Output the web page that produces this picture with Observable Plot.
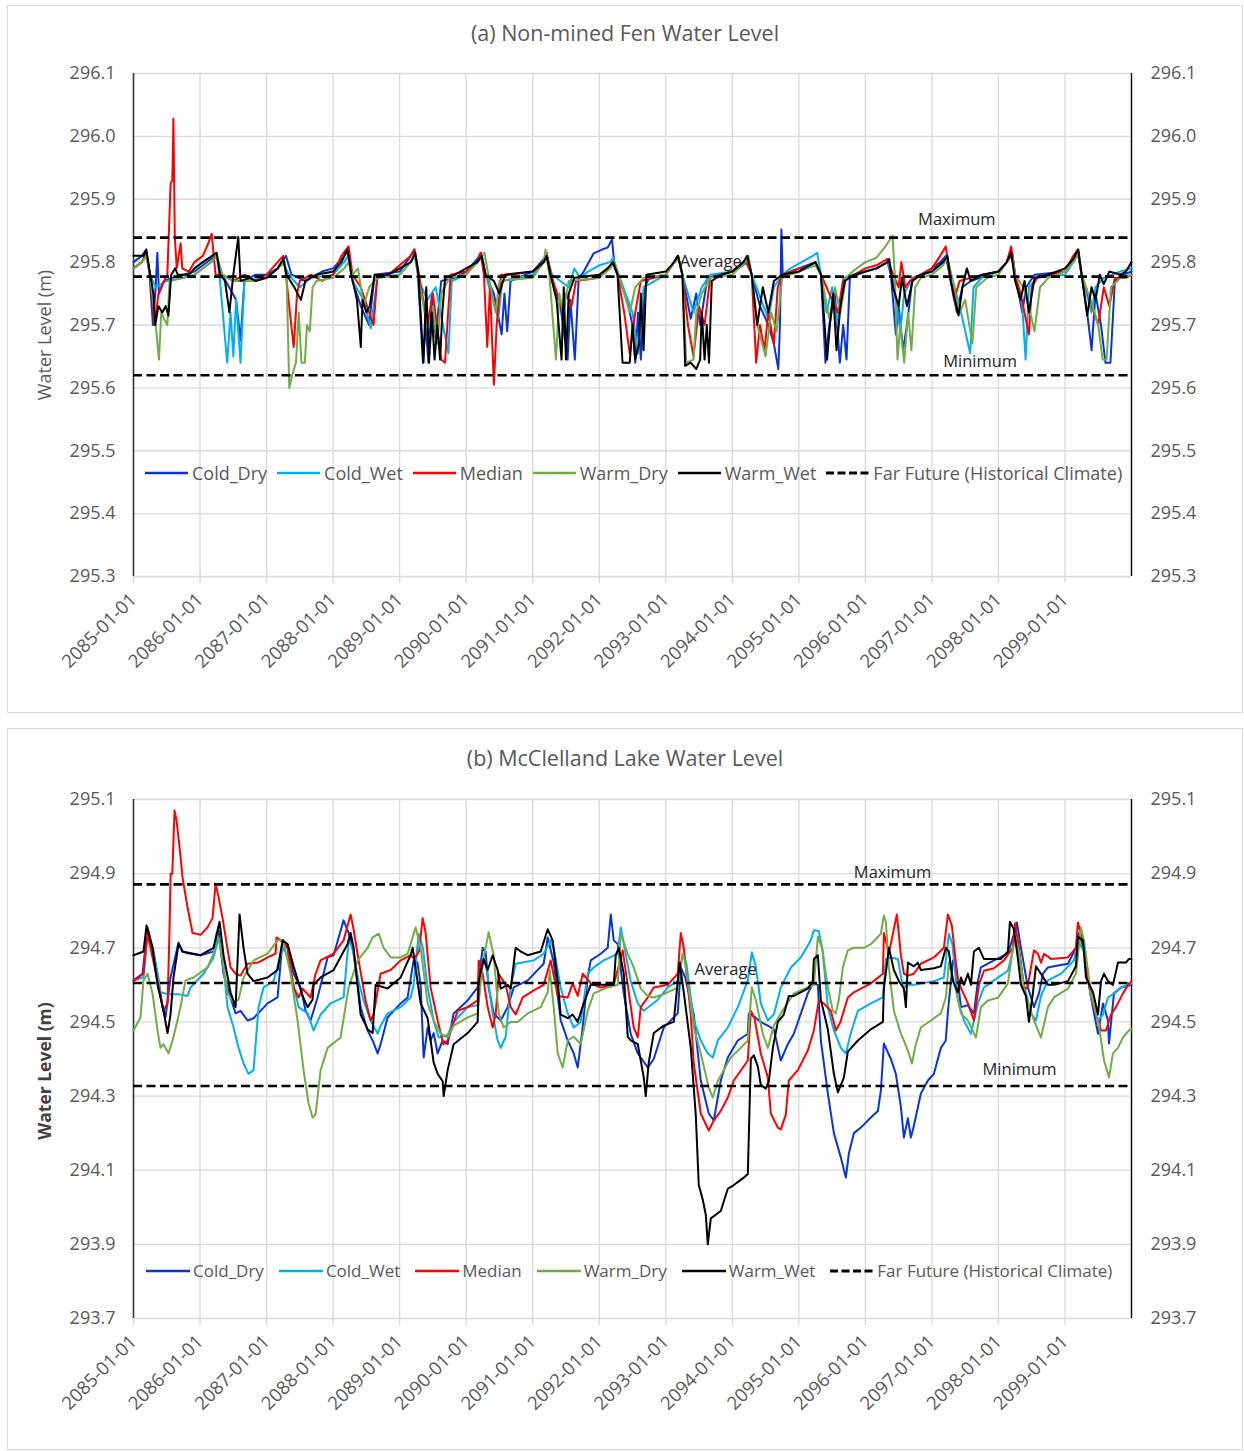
<!DOCTYPE html>
<html><head><meta charset="utf-8">
<script src="https://cdn.jsdelivr.net/npm/d3@7"></script>
<script src="https://cdn.jsdelivr.net/npm/@observablehq/plot@0.6"></script>
<style>
body{margin:0;background:#fff;font-family:"Open Sans",sans-serif;}
.panel{position:absolute;left:7px;width:1236px;border:1px solid #d9d9d9;box-sizing:border-box;background:#fff;}
.title{height:54px;line-height:54px;text-align:center;font-size:21.5px;color:#595959;}
.panel svg{display:block}
.legend{position:absolute;display:flex;align-items:center;color:#595959;white-space:nowrap;line-height:24px;height:24px}
.item{display:flex;align-items:center}
.item svg{display:block}
</style></head><body>
<div id="pa" class="panel" style="top:5px;height:708px"><div class="title">(a) Non-mined Fen Water Level</div></div>
<div id="pb" class="panel" style="top:728px;height:722px"><div class="title" style="height:58px;line-height:58px">(b) McClelland Lake Water Level</div></div>
<script>
// ---------- categories ----------
const seriesNames = ["Cold_Dry","Cold_Wet","Median","Warm_Dry","Warm_Wet"];
const seriesColors = ["#0a35d6","#00b0f0","#ff0000","#70ad47","#000000"];
const refName = "Far Future (Historical Climate)";
const refLabels = ["Maximum","Average","Minimum"];
const yearTickMonths = [0,12,24,36,48,60,72,84,96,108,120,132,144,156,168];
const yearTickLabels = ["2085-01-01","2086-01-01","2087-01-01","2088-01-01","2089-01-01","2090-01-01","2091-01-01","2092-01-01","2093-01-01","2094-01-01","2095-01-01","2096-01-01","2097-01-01","2098-01-01","2099-01-01"];
const fenTicks = [295.3,295.4,295.5,295.6,295.7,295.8,295.9,296.0,296.1];
const lakeTicks = [293.7,293.9,294.1,294.3,294.5,294.7,294.9,295.1];
const fenRefValues = [295.839,295.777,295.620];
const fenRefLabelMonths = [148.5,104.1,152.7];
const lakeRefValues = [294.871,294.605,294.327];
const lakeRefLabelMonths = [136.9,106.8,159.8];

// ---------- series: [months since 2085-01-01, water level m] ----------
// (a) Non-mined fen
const fenColdDry = [[0,295.80],[1.5,295.81],[2.3,295.82],[2.9,295.78],[3.5,295.70],[4.0,295.76],[4.3,295.815],[4.6,295.75],[5.5,295.77],[7,295.775],[9,295.78],[11,295.785],[14,295.805],[15,295.81],[16,295.78],[18.5,295.74],[19.3,295.675],[20,295.77],[22,295.78],[24,295.78],[26,295.79],[27.5,295.81],[28.5,295.78],[31,295.77],[34,295.785],[36,295.79],[38,295.81],[38.5,295.82],[39.5,295.77],[41,295.73],[42.5,295.70],[43.5,295.78],[48,295.785],[50,295.81],[50.6,295.82],[51.3,295.78],[52.2,295.64],[52.7,295.70],[53.2,295.64],[53.8,295.75],[54.5,295.68],[55.5,295.77],[58,295.775],[60,295.785],[62,295.805],[62.7,295.815],[63.5,295.78],[65,295.75],[66.4,295.685],[66.9,295.75],[67.4,295.69],[68,295.77],[72,295.785],[74,295.805],[74.5,295.815],[75.3,295.78],[77,295.73],[78.3,295.645],[78.8,295.74],[79.6,295.645],[80.3,295.775],[81,295.782],[83,295.814],[84.5,295.82],[85.5,295.823],[86.3,295.836],[86.8,295.79],[87.5,295.775],[89,295.74],[90,295.70],[90.5,295.64],[91,295.72],[91.5,295.645],[92.2,295.76],[93,295.775],[96,295.78],[97.5,295.80],[98.2,295.81],[99,295.78],[100.5,295.71],[101.5,295.75],[102.2,295.70],[103.5,295.775],[108,295.785],[110,295.80],[110.7,295.805],[111.5,295.78],[113,295.73],[114.5,295.70],[115.5,295.67],[116.3,295.63],[116.6,295.70],[116.85,295.852],[117.1,295.78],[120,295.79],[123,295.80],[124,295.78],[124.8,295.64],[125.5,295.70],[126.5,295.75],[127.4,295.64],[128,295.70],[128.6,295.645],[129.2,295.775],[132,295.785],[134,295.79],[136,295.80],[136.6,295.78],[137.5,295.685],[138,295.73],[138.8,295.66],[139.5,295.70],[140.5,295.775],[142,295.78],[144,295.79],[145.5,295.80],[146.5,295.81],[147.2,295.78],[148.5,295.72],[149.5,295.76],[151,295.77],[156,295.785],[157.5,295.80],[158.5,295.815],[159,295.78],[160.3,295.72],[161,295.76],[162.5,295.78],[168,295.785],[169.5,295.805],[170.3,295.815],[171,295.78],[172,295.72],[172.8,295.66],[173.5,295.75],[174.5,295.70],[175.3,295.64],[176.2,295.64],[177,295.77],[178.5,295.78],[180,295.785]];
const fenColdWet = [[0,295.79],[1.5,295.80],[2.3,295.81],[3,295.78],[4,295.76],[6,295.77],[9,295.775],[11,295.78],[14,295.80],[15,295.81],[15.5,295.78],[16.9,295.64],[17.5,295.72],[18,295.65],[18.5,295.74],[19.3,295.64],[20,295.77],[24,295.775],[26,295.79],[27,295.80],[28,295.78],[30,295.76],[32,295.775],[36,295.78],[38,295.80],[38.7,295.81],[39.5,295.77],[41.5,295.74],[42.8,295.695],[44,295.775],[48,295.78],[50,295.80],[50.8,295.81],[51.5,295.77],[53,295.74],[54.5,295.76],[56.8,295.655],[57.4,295.77],[60,295.78],[62,295.80],[62.8,295.81],[63.5,295.78],[65.8,295.71],[66.5,295.77],[72,295.78],[74,295.80],[74.5,295.81],[75.5,295.78],[78.5,295.76],[79.5,295.79],[80.5,295.775],[82,295.785],[84,295.795],[86,295.80],[86.5,295.807],[87.5,295.78],[90,295.72],[91,295.655],[92,295.76],[96,295.78],[97.5,295.80],[98.3,295.805],[99,295.78],[101,295.72],[102.5,295.76],[104,295.78],[108,295.785],[110,295.795],[110.8,295.80],[111.5,295.78],[114.5,295.71],[115.5,295.76],[117,295.78],[118.5,295.79],[120.5,295.80],[122.5,295.81],[123.3,295.815],[124,295.78],[125,295.72],[126,295.76],[127,295.70],[128,295.775],[130,295.78],[132,295.785],[134,295.79],[136,295.80],[136.8,295.78],[138.3,295.69],[139,295.75],[140.5,295.775],[144,295.785],[146,295.80],[146.7,295.81],[147.5,295.78],[149,295.73],[150.9,295.655],[151.5,295.76],[153,295.775],[156,295.785],[157.5,295.80],[158.3,295.815],[159,295.78],[160.3,295.73],[160.9,295.645],[161.5,295.76],[163,295.775],[168,295.78],[169.5,295.80],[170.4,295.815],[171,295.78],[172.8,295.72],[173.5,295.76],[175,295.775],[178,295.785],[180,295.79]];
const fenMedian = [[0,295.79],[1.5,295.80],[2.3,295.815],[3,295.78],[3.8,295.70],[4.5,295.75],[5.5,295.77],[6.1,295.78],[6.7,295.925],[7.0,295.93],[7.2,296.028],[7.45,295.84],[7.8,295.79],[8.5,295.83],[8.8,295.79],[10,295.785],[11,295.80],[12.5,295.81],[13.5,295.83],[14.1,295.845],[14.8,295.78],[16,295.78],[18,295.77],[20,295.78],[22,295.77],[24,295.78],[26,295.80],[27,295.81],[27.5,295.78],[28.2,295.72],[28.9,295.665],[29.5,295.75],[30,295.77],[32,295.78],[34,295.77],[36,295.78],[37.5,295.81],[38.8,295.825],[39.5,295.78],[41,295.76],[42.5,295.72],[43.3,295.70],[44,295.78],[46,295.78],[48,295.795],[50,295.81],[50.7,295.82],[51.5,295.78],[53,295.70],[54,295.75],[55.5,295.645],[56.2,295.64],[56.6,295.70],[57.2,295.78],[60,295.785],[62,295.80],[62.6,295.815],[63.2,295.78],[63.8,295.665],[64.3,295.76],[65.0,295.605],[65.5,295.70],[66.3,295.78],[68,295.78],[72,295.785],[74,295.80],[74.5,295.815],[75.3,295.78],[77.5,295.72],[78,295.75],[79,295.73],[79.8,295.77],[84,295.775],[85.5,295.79],[86.5,295.80],[87.3,295.78],[88.5,295.72],[89.5,295.655],[90.5,295.72],[91.5,295.77],[96,295.78],[97.5,295.80],[98.2,295.81],[99,295.78],[100,295.70],[101,295.65],[102,295.73],[103,295.70],[104,295.775],[108,295.785],[109.5,295.795],[110.5,295.80],[111.5,295.78],[112.3,295.64],[113,295.70],[113.8,295.66],[114.5,295.72],[115.5,295.67],[116.2,295.76],[117,295.78],[120,295.79],[121,295.79],[123,295.80],[124,295.78],[125.5,295.75],[127,295.72],[128,295.77],[130,295.78],[132,295.79],[134,295.795],[136,295.805],[137,295.78],[138,295.76],[138.5,295.80],[139.2,295.76],[140,295.77],[142,295.78],[144,295.79],[145.5,295.81],[146.5,295.825],[147.2,295.78],[148,295.74],[149,295.77],[151,295.775],[156,295.785],[157.5,295.80],[158.3,295.825],[159,295.78],[160,295.75],[161.5,295.685],[162,295.76],[163,295.775],[168,295.785],[169.5,295.81],[170.3,295.82],[171,295.78],[172.5,295.74],[174,295.70],[175,295.76],[176,295.73],[177,295.775],[179,295.775],[180,295.78]];
const fenWarmDry = [[0,295.79],[1.5,295.80],[2.3,295.81],[3,295.78],[4.0,295.70],[4.6,295.645],[5.0,295.72],[5.5,295.71],[6.1,295.70],[6.5,295.77],[9,295.775],[11,295.78],[14,295.80],[15,295.81],[16,295.78],[18,295.77],[22,295.77],[24,295.775],[26,295.79],[27.3,295.80],[27.6,295.78],[28.1,295.60],[28.6,295.62],[29.3,295.64],[29.8,295.72],[30.3,295.64],[30.9,295.64],[31.3,295.70],[31.8,295.69],[32.3,295.76],[33,295.77],[36,295.775],[38,295.79],[38.8,295.80],[39.5,295.78],[40.5,295.79],[41.5,295.73],[42.5,295.76],[44,295.775],[48,295.78],[50,295.80],[50.8,295.81],[51.5,295.77],[53.5,295.67],[54,295.73],[54.8,295.67],[55.5,295.75],[57,295.775],[60,295.78],[62,295.80],[63.3,295.815],[64,295.78],[65.3,295.72],[66,295.77],[72,295.775],[74,295.80],[74.3,295.82],[75,295.78],[76.2,295.645],[76.8,295.75],[77.5,295.72],[78.5,295.77],[84,295.775],[86,295.79],[86.7,295.80],[87.5,295.78],[89.5,295.72],[90.5,295.76],[92,295.775],[96,295.78],[97.5,295.80],[98.3,295.805],[99,295.78],[99.7,295.64],[101,295.645],[101.5,295.72],[102.5,295.75],[104,295.775],[108,295.78],[110.3,295.80],[110.9,295.81],[111.5,295.78],[112.5,295.70],[114,295.65],[115,295.72],[116,295.69],[117,295.775],[120,295.785],[123,295.795],[124,295.78],[125.5,295.71],[126.5,295.76],[127.5,295.72],[128.5,295.775],[130,295.787],[132,295.80],[134,295.807],[135.7,295.826],[136.9,295.842],[137.3,295.78],[137.8,295.645],[138.3,295.70],[139,295.64],[139.7,295.72],[140.3,295.66],[141,295.76],[142,295.775],[144,295.78],[146,295.795],[146.8,295.805],[147.5,295.78],[149,295.72],[150,295.74],[151.3,295.67],[152,295.76],[154,295.775],[156,295.78],[157.5,295.80],[158.5,295.81],[159,295.78],[160.5,295.76],[161.5,295.73],[162.5,295.69],[163.5,295.76],[165,295.775],[168,295.785],[169.5,295.80],[170.5,295.815],[171,295.78],[173,295.73],[174,295.70],[174.8,295.645],[175.5,295.645],[176.3,295.76],[178,295.775],[180,295.78]];
const fenWarmWet = [[0,295.81],[1.8,295.81],[2.3,295.82],[3,295.78],[3.6,295.75],[3.9,295.70],[4.5,295.73],[5.2,295.72],[5.8,295.73],[6.3,295.715],[6.8,295.78],[7.5,295.79],[8,295.78],[10,295.78],[11,295.79],[12.5,295.80],[15,295.815],[15.6,295.78],[16.5,295.77],[17.3,295.72],[18,295.78],[18.9,295.84],[19.3,295.77],[21,295.775],[22,295.77],[24,295.775],[26,295.79],[27,295.805],[27.6,295.78],[29,295.76],[30.2,295.74],[31,295.77],[33,295.78],[36,295.785],[37.5,295.80],[38.6,295.82],[39.3,295.78],[40.3,295.74],[41,295.665],[41.3,295.74],[42,295.72],[42.6,295.73],[43.5,295.78],[46,295.78],[48,295.79],[50,295.80],[50.8,295.815],[51.4,295.78],[52.3,295.64],[52.8,295.76],[53.3,295.64],[53.8,295.72],[54.3,295.645],[54.8,295.70],[55.3,295.645],[55.7,295.72],[56.2,295.775],[58,295.78],[60,295.79],[62,295.80],[62.8,295.81],[63.5,295.78],[65,295.77],[66,295.75],[67,295.78],[72,295.785],[74,295.80],[74.5,295.81],[75.2,295.78],[76.3,295.74],[77.2,295.645],[77.6,295.76],[78,295.645],[78.5,295.75],[79.5,295.775],[84,295.78],[85.5,295.79],[86.5,295.80],[87.3,295.78],[88.2,295.64],[89.5,295.64],[90,295.70],[90.5,295.645],[91.2,295.67],[91.5,295.75],[92,295.66],[92.5,295.78],[96,295.785],[97.5,295.80],[98.2,295.81],[99,295.78],[99.5,295.635],[100.5,295.64],[101.5,295.63],[102.2,295.645],[102.5,295.72],[103,295.645],[103.4,295.70],[103.8,295.64],[104.3,295.77],[106,295.78],[108,295.785],[110,295.80],[110.7,295.81],[111.5,295.78],[112.5,295.70],[113.5,295.76],[114.5,295.72],[115.5,295.77],[117,295.78],[120,295.785],[121,295.79],[123,295.80],[124,295.78],[125.1,295.645],[125.6,295.70],[126.2,295.75],[126.8,295.66],[127.5,295.73],[128.3,295.77],[130,295.78],[132,295.785],[134,295.79],[136,295.80],[136.3,295.805],[137,295.76],[138,295.73],[138.6,295.775],[139.5,295.73],[140.5,295.77],[142,295.78],[144,295.785],[146,295.80],[146.8,295.81],[147.4,295.77],[148.8,295.715],[149.5,295.76],[150.3,295.79],[151,295.77],[153,295.78],[156,295.785],[157.5,295.80],[158.3,295.815],[159,295.77],[160,295.74],[160.7,295.77],[161.5,295.72],[162.5,295.775],[165,295.78],[168,295.79],[169.5,295.805],[170.4,295.82],[171,295.78],[172,295.715],[172.8,295.76],[173.5,295.74],[174.3,295.78],[175,295.765],[176,295.785],[178,295.78],[179,295.785],[180,295.80]];

// (b) McClelland Lake
const lakeColdDry = [[0,294.612],[1.62,294.63],[2.53,294.755],[3.43,294.70],[4.33,294.63],[5.23,294.54],[5.77,294.512],[6.68,294.62],[8.12,294.714],[8.84,294.69],[9.74,294.685],[12.09,294.68],[14.44,294.69],[15.34,294.747],[16.24,294.63],[17.5,294.566],[18.41,294.523],[19.31,294.53],[20.57,294.504],[21.65,294.51],[24.18,294.55],[25.98,294.566],[26.89,294.72],[27.79,294.70],[28.87,294.63],[30.13,294.593],[31.04,294.53],[31.94,294.504],[33.2,294.566],[35.01,294.674],[36.09,294.68],[37.89,294.774],[38.8,294.74],[39.7,294.685],[40.96,294.54],[42.23,294.477],[43.13,294.45],[44.03,294.415],[44.57,294.44],[45.83,294.512],[48.18,294.55],[49.44,294.566],[50.53,294.666],[51.2,294.66],[51.79,294.60],[52.33,294.404],[53.05,294.485],[53.59,294.45],[54.14,294.47],[54.86,294.415],[55.76,294.45],[56.66,294.44],[57.74,294.523],[60.27,294.558],[62.07,294.593],[62.98,294.70],[63.5,294.69],[64.06,294.593],[64.96,294.523],[66.23,294.504],[67.49,294.54],[68.57,294.593],[71.1,294.612],[73.98,294.657],[74.71,294.728],[75.8,294.66],[77.05,294.504],[78.32,294.45],[79.4,294.415],[80.12,294.377],[81.02,294.485],[81.92,294.62],[82.47,294.666],[84.27,294.684],[85.53,294.70],[86.08,294.79],[86.62,294.72],[87.34,294.71],[88.42,294.577],[89.68,294.468],[90.95,294.415],[92.75,294.377],[93.83,294.40],[95.64,294.485],[98.16,294.523],[98.71,294.647],[99.5,294.62],[101.05,294.52],[102.31,294.342],[103.76,294.253],[104.66,294.234],[105.92,294.342],[107.19,294.404],[108.99,294.45],[110.8,294.468],[110.98,294.523],[111.88,294.515],[113.14,294.50],[114.41,294.49],[115.5,294.48],[116.75,294.396],[118.01,294.44],[119.1,294.468],[121.62,294.577],[122.53,294.604],[123.43,294.60],[123.97,294.45],[125.23,294.307],[126.32,294.20],[127.58,294.134],[128.48,294.08],[129.02,294.145],[129.93,294.20],[131.19,294.215],[132.99,294.242],[134.26,294.26],[134.8,294.315],[135.34,294.442],[136.6,294.40],[137.5,294.36],[138.41,294.27],[138.95,294.188],[139.67,294.24],[140.21,294.188],[140.75,294.22],[142.01,294.307],[143.28,294.342],[144.36,294.36],[145.62,294.43],[146.5,294.45],[146.9,294.53],[147.8,294.666],[148.5,294.64],[149.23,294.54],[150.49,294.545],[151.58,294.523],[152.3,294.61],[152.84,294.647],[155.19,294.666],[157.71,294.684],[158.61,294.728],[159.34,294.768],[160.06,294.70],[161.32,294.593],[162.41,294.54],[163.31,294.577],[164.03,294.63],[164.93,294.647],[166.01,294.65],[168.54,294.657],[169.98,294.70],[170.34,294.74],[171.43,294.70],[172.69,294.566],[173.96,294.468],[174.86,294.55],[175.76,294.504],[175.94,294.442],[176.84,294.577],[178.1,294.593],[180,294.60]];
const lakeColdWet = [[0,294.612],[1.8,294.62],[2.53,294.74],[3.5,294.70],[4.87,294.58],[6.14,294.575],[8.12,294.575],[9.74,294.57],[10.29,294.593],[12.63,294.63],[14.44,294.674],[15.34,294.728],[16.1,294.67],[16.96,294.54],[18.05,294.485],[18.95,294.43],[19.85,294.388],[20.75,294.36],[21.65,294.37],[22.56,294.54],[23.46,294.593],[24.18,294.60],[25.26,294.61],[26.89,294.70],[27.79,294.68],[28.87,294.60],[29.77,294.54],[31.4,294.523],[32.48,294.477],[33.74,294.52],[35.55,294.55],[37.89,294.566],[38.8,294.72],[39.5,294.70],[40.6,294.61],[41.5,294.558],[42.77,294.504],[44.03,294.468],[44.57,294.49],[45.83,294.523],[48.18,294.54],[49.98,294.566],[50.53,294.60],[51.43,294.738],[52.2,294.70],[53.05,294.593],[54.14,294.504],[55.04,294.458],[56.66,294.465],[57.74,294.50],[60.27,294.54],[62.07,294.545],[62.98,294.666],[63.6,294.65],[64.78,294.523],[65.68,294.45],[66.23,294.43],[67.13,294.46],[68.03,294.593],[68.93,294.657],[72.18,294.666],[73.98,294.684],[75.25,294.72],[75.9,294.69],[77.05,294.593],[78.32,294.523],[79.4,294.485],[80.66,294.50],[81.92,294.63],[83.01,294.647],[84.81,294.666],[87.34,294.684],[87.88,294.755],[88.78,294.684],[89.68,294.61],[90.95,294.55],[92.03,294.53],[93.29,294.545],[94.56,294.56],[96.36,294.593],[98.16,294.61],[99.07,294.684],[99.7,294.66],[101.05,294.504],[102.31,294.45],[103.58,294.415],[104.48,294.404],[105.38,294.45],[107.19,294.485],[108.99,294.54],[110.8,294.612],[111.52,294.688],[112.24,294.65],[113.14,294.55],[114.41,294.504],[115.49,294.52],[116.75,294.593],[118.56,294.647],[120.36,294.674],[122.16,294.72],[122.71,294.747],[123.61,294.745],[124.3,294.69],[125.23,294.54],[126.32,294.477],[127.58,294.43],[128.48,294.415],[129.38,294.47],[130.65,294.53],[132.99,294.55],[135.16,294.566],[135.7,294.67],[136.6,294.674],[137.87,294.67],[138.77,294.593],[139.67,294.60],[140.75,294.60],[142.01,294.604],[144.36,294.61],[146.16,294.62],[147.06,294.738],[147.7,294.71],[148.69,294.56],[149.77,294.504],[151.04,294.468],[152.3,294.55],[153.38,294.593],[155.19,294.612],[157.71,294.638],[158.61,294.693],[158.8,294.72],[159.6,294.70],[160.6,294.60],[161.86,294.523],[162.77,294.504],[163.67,294.57],[164.93,294.612],[167.28,294.63],[169.62,294.666],[170.34,294.72],[171.43,294.69],[172.69,294.566],[173.96,294.504],[174.86,294.52],[175.76,294.566],[176.84,294.577],[178.1,294.593],[180,294.604]];
const lakeMedian = [[0,294.61],[1.8,294.63],[2.53,294.74],[3.07,294.70],[4.33,294.61],[5.41,294.53],[6.14,294.55],[6.5,294.75],[6.7,294.90],[7.0,294.90],[7.4,295.07],[7.8,295.04],[8.5,294.944],[8.84,294.89],[9.74,294.81],[10.65,294.74],[12.09,294.735],[13.35,294.755],[14.26,294.78],[14.8,294.873],[15.3,294.84],[16.06,294.78],[17.5,294.647],[18.41,294.63],[19.31,294.625],[20.57,294.657],[22.5,294.66],[24.18,294.674],[25.62,294.684],[25.8,294.728],[26.53,294.72],[27.79,294.70],[28.87,294.593],[29.77,294.566],[30.5,294.59],[31.94,294.566],[32.84,294.63],[33.74,294.666],[36.09,294.684],[37.89,294.72],[39.16,294.79],[39.7,294.75],[40.6,294.666],[41.86,294.558],[42.77,294.504],[43.3,294.52],[44.57,294.63],[46.38,294.64],[48.18,294.666],[49.98,294.68],[50.6,294.67],[51.5,294.69],[52.15,294.78],[52.69,294.74],[53.59,294.593],[54.86,294.504],[55.9,294.44],[56.66,294.45],[58.47,294.53],[60.27,294.54],[62.07,294.558],[62.26,294.666],[62.98,294.63],[63.88,294.54],[64.78,294.485],[65.32,294.52],[65.86,294.63],[67.13,294.60],[68.03,294.54],[68.93,294.52],[70.2,294.566],[72.18,294.585],[73.98,294.60],[75.25,294.666],[76.51,294.57],[78.32,294.566],[79.22,294.604],[80.12,294.57],[81.02,294.63],[82.47,294.604],[84.27,294.593],[86.62,294.60],[88.24,294.693],[89.14,294.60],[90.22,294.485],[90.95,294.458],[91.49,294.54],[92.75,294.566],[93.83,294.593],[96.36,294.60],[98.16,294.63],[98.71,294.74],[99.25,294.70],[100.51,294.52],[101.05,294.388],[102.31,294.253],[103.76,294.207],[104.66,294.234],[105.92,294.26],[107.19,294.296],[108.27,294.342],[110.8,294.396],[111.34,294.53],[112.0,294.51],[113.14,294.415],[114.41,294.35],[114.95,294.253],[116.21,294.215],[116.75,294.21],[117.65,294.25],[118.19,294.342],[119.82,294.37],[121.62,294.423],[122.71,294.477],[123.61,294.558],[124.5,294.55],[125.77,294.53],[126.68,294.477],[127.5,294.50],[128.84,294.566],[129.93,294.58],[132.99,294.604],[135.16,294.63],[135.34,294.74],[136.24,294.685],[137.68,294.79],[138.41,294.68],[138.95,294.63],[139.67,294.625],[140.75,294.63],[142.01,294.657],[144.36,294.674],[146.16,294.70],[146.88,294.79],[147.6,294.76],[148.69,294.61],[150.49,294.55],[151.58,294.504],[152.48,294.60],[153.38,294.638],[155.19,294.645],[156.99,294.666],[158.61,294.70],[158.98,294.766],[159.7,294.70],[160.6,294.593],[161.2,294.59],[162.41,294.693],[163.13,294.684],[163.67,294.66],[164.21,294.684],[165.47,294.67],[168.54,294.674],[169.98,294.70],[170.34,294.768],[171.25,294.72],[172.15,294.61],[173.23,294.54],[174.5,294.477],[175.4,294.477],[176.3,294.52],[177.2,294.54],[178.46,294.577],[179.55,294.604],[180,294.61]];
const lakeWarmDry = [[0,294.477],[1.26,294.512],[1.8,294.612],[2.53,294.63],[3.43,294.577],[4.33,294.477],[4.87,294.43],[5.41,294.44],[6.32,294.415],[7.22,294.46],[8.48,294.54],[9.38,294.612],[10.83,294.62],[13.35,294.647],[14.44,294.684],[14.98,294.74],[15.7,294.70],[16.96,294.577],[18.05,294.553],[18.95,294.56],[19.85,294.62],[21.65,294.666],[24.18,294.684],[25.98,294.72],[27.0,294.72],[28.33,294.63],[29.59,294.504],[30.68,294.369],[31.58,294.28],[32.3,294.242],[32.84,294.25],[33.74,294.369],[35.01,294.43],[37.35,294.458],[38.8,294.593],[40.42,294.666],[42.23,294.70],[43.13,294.728],[44.21,294.738],[45.11,294.70],[46.38,294.674],[48.18,294.674],[49.44,294.684],[50.89,294.755],[51.79,294.70],[53.05,294.55],[54.14,294.504],[55.4,294.468],[56.66,294.458],[57.74,294.49],[60.27,294.512],[62.07,294.523],[62.98,294.66],[64.06,294.742],[64.96,294.68],[65.86,294.523],[66.77,294.485],[68.03,294.50],[69.29,294.50],[71.1,294.523],[73.44,294.54],[74.71,294.58],[75.07,294.64],[75.79,294.54],[76.51,294.415],[77.41,294.377],[78.32,294.45],[79.4,294.46],[80.66,294.44],[81.92,294.53],[83.01,294.577],[85.53,294.593],[87.34,294.60],[87.88,294.738],[89.14,294.684],[90.22,294.647],[91.49,294.59],[92.75,294.57],[93.83,294.566],[95.64,294.575],[98.16,294.593],[99.07,294.684],[99.5,294.66],[101.05,294.485],[102.31,294.415],[103.76,294.323],[104.48,294.296],[105.38,294.34],[106.46,294.37],[107.73,294.404],[109.53,294.43],[110.8,294.45],[111.52,294.593],[112.24,294.56],[113.5,294.468],[114.41,294.43],[115.49,294.49],[116.75,294.523],[119.1,294.577],[121.62,294.593],[122.71,294.60],[123.43,294.73],[124.2,294.70],[125.23,294.593],[126.13,294.53],[126.68,294.523],[127.22,294.56],[127.94,294.647],[128.84,294.693],[129.93,294.70],[131.73,294.70],[132.99,294.71],[134.8,294.738],[135.34,294.787],[135.7,294.77],[136.24,294.647],[137.14,294.53],[138.41,294.468],[138.95,294.45],[139.85,294.415],[140.39,294.388],[141.11,294.44],[142.01,294.485],[143.82,294.504],[145.62,294.523],[146.52,294.566],[147.06,294.66],[147.6,294.63],[147.97,294.61],[149.23,294.523],[150.49,294.504],[151.94,294.458],[152.84,294.54],[154.11,294.558],[155.91,294.565],[157.71,294.604],[158.61,294.70],[159.16,294.72],[159.7,294.69],[160.6,294.59],[162.41,294.504],[163.67,294.458],[164.93,294.54],[166.01,294.566],[168.54,294.59],[169.98,294.63],[170.88,294.755],[171.43,294.72],[172.69,294.577],[173.96,294.504],[175.04,294.396],[175.76,294.36],[175.94,294.35],[176.66,294.415],[177.56,294.43],[178.46,294.458],[179.55,294.477],[180,294.48]];
const lakeWarmWet = [[0,294.68],[1.8,294.69],[2.35,294.76],[3.43,294.70],[4.33,294.60],[5.41,294.53],[6.14,294.47],[6.68,294.52],[7.22,294.62],[8.12,294.71],[8.84,294.69],[12.09,294.68],[14.44,294.70],[15.52,294.77],[16.24,294.68],[17.5,294.58],[18.41,294.54],[19.13,294.79],[19.85,294.70],[20.57,294.63],[21.65,294.61],[24.18,294.62],[25.98,294.64],[26.89,294.72],[27.79,294.71],[28.87,294.65],[30.5,294.57],[31.4,294.54],[32.3,294.56],[32.48,294.60],[33.74,294.62],[36.09,294.64],[38.62,294.71],[39.16,294.74],[39.7,294.70],[40.96,294.52],[42.23,294.48],[43.13,294.47],[43.67,294.60],[45.83,294.59],[48.18,294.62],[49.98,294.68],[50.35,294.70],[51.79,294.55],[53.05,294.51],[54.14,294.39],[54.86,294.36],[55.76,294.34],[55.94,294.30],[56.66,294.37],[57.74,294.44],[60.27,294.47],[62.07,294.50],[62.26,294.61],[63.16,294.67],[63.88,294.64],[64.78,294.68],[65.68,294.64],[66.23,294.59],[67.49,294.60],[68.03,294.59],[68.93,294.70],[69.83,294.69],[71.1,294.68],[73.44,294.69],[74.71,294.75],[75.6,294.72],[76.51,294.61],[77.05,294.52],[78.32,294.51],[79.2,294.52],[80.12,294.50],[81.2,294.55],[82.47,294.60],[86.62,294.60],[86.98,294.68],[87.52,294.70],[88.42,294.63],[89.14,294.46],[89.68,294.45],[90.95,294.44],[92.03,294.35],[92.39,294.30],[92.93,294.39],[93.83,294.47],[95.64,294.49],[97.44,294.50],[98.16,294.61],[98.52,294.66],[99.25,294.58],[100.51,294.43],[101.41,294.25],[101.95,294.06],[102.68,294.02],[103.22,293.98],[103.58,293.90],[104.12,293.97],[105.92,293.99],[107.19,294.05],[108.27,294.06],[110.07,294.08],[110.8,294.09],[111.34,294.40],[111.88,294.41],[112.6,294.38],[113.14,294.33],[114.04,294.32],[114.59,294.34],[115.31,294.43],[116.21,294.50],[117.29,294.52],[118.19,294.57],[119.1,294.57],[121.62,294.59],[122.53,294.61],[122.71,294.67],[123.43,294.68],[123.97,294.56],[125.23,294.48],[126.32,294.36],[127.04,294.31],[128.12,294.35],[128.84,294.42],[130.65,294.45],[132.99,294.48],[135.16,294.50],[135.34,294.59],[136.24,294.70],[137.14,294.64],[138.05,294.61],[138.95,294.59],[139.31,294.54],[139.67,294.66],[140.75,294.65],[141.47,294.66],[142.01,294.64],[144.36,294.645],[145.62,294.65],[146.52,294.70],[147.06,294.69],[147.79,294.61],[148.69,294.58],[149.23,294.62],[149.77,294.60],[150.49,294.63],[151.04,294.60],[151.58,294.69],[152.48,294.70],[153.38,294.67],[154.65,294.67],[156.45,294.67],[157.71,294.69],[158.07,294.77],[158.8,294.75],[159.52,294.67],[160.06,294.60],[160.96,294.57],[161.5,294.50],[162.23,294.58],[162.77,294.65],[163.67,294.63],[164.93,294.60],[166.01,294.60],[168.54,294.61],[169.98,294.65],[170.34,294.73],[171.25,294.72],[171.79,294.62],[173.05,294.58],[173.96,294.52],[174.5,294.61],[175.04,294.63],[175.76,294.61],[176.66,294.60],[177.56,294.66],[178.1,294.66],[179.0,294.66],[179.55,294.67],[180,294.67]];

// ---------- build ----------
const fenSeries = [fenColdDry, fenColdWet, fenMedian, fenWarmDry, fenWarmWet];
const lakeSeries = [lakeColdDry, lakeColdWet, lakeMedian, lakeWarmDry, lakeWarmWet];
function table(seriesList){
  const rows = [];
  seriesList.forEach((s, i) => s.forEach(([m, v]) => rows.push({m, v, s: seriesNames[i]})));
  return rows;
}
const FONT = "'Open Sans', sans-serif";

function panel(cfg){
  return Plot.plot({
    width: 1234, height: cfg.height,
    marginTop: cfg.marginTop, marginBottom: cfg.marginBottom, marginLeft: 125, marginRight: 111,
    style: {fontFamily: FONT, fontSize: "18px", color: "#595959", background: "#fff", overflow: "visible"},
    x: {type: "linear", domain: [0, 180]},
    y: {domain: cfg.domain},
    color: {domain: seriesNames, range: seriesColors},
    marks: [
      Plot.gridY(cfg.ticks, {stroke: "#d9d9d9", strokeOpacity: 1, strokeWidth: 1.3}),
      Plot.gridX(yearTickMonths.slice(1), {stroke: "#d9d9d9", strokeOpacity: 1, strokeWidth: 1.3}),
      Plot.axisX(yearTickMonths, {tickSize: 7, tickPadding: 13, tickRotate: -45, stroke: "#d9d9d9", strokeWidth: 1.3,
        tickFormat: (d) => yearTickLabels[yearTickMonths.indexOf(d)], label: null, fontSize: 18.5}),
      Plot.axisY(cfg.ticks, {anchor: "left", tickSize: 0, tickPadding: 18, tickFormat: d3.format(".1f"), label: null}),
      Plot.axisY(cfg.ticks, {anchor: "right", tickSize: 0, tickPadding: 19, tickFormat: d3.format(".1f"), label: null}),
      Plot.ruleX([0], {stroke: "#333", strokeWidth: 1.6}),
      Plot.ruleX([180], {stroke: "#000", strokeWidth: 1.4}),
      Plot.line(table(cfg.series), {x: "m", y: "v", z: "s", stroke: "s", strokeWidth: 2, curve: "linear"}),
      Plot.ruleY(cfg.refValues, {stroke: "#000", strokeWidth: 2.6, strokeDasharray: "9,4.5"}),
      ...refLabels.map((lab, i) => Plot.text([i], {x: (j) => cfg.labelMonths[j], y: (j) => cfg.refValues[j], text: () => lab,
        dy: cfg.labelDy[i], fill: "#262626", fontSize: 16.5})),
      Plot.text(["Water Level (m)"], {frameAnchor: "left", textAnchor: "middle", rotate: -90, dx: -88, dy: cfg.titleDy,
        fontSize: cfg.titleSize, fontWeight: cfg.titleWeight, fill: cfg.titleFill})
    ]
  });
}

function legend(fontSize, gapItem, gapText, swW){
  const div = document.createElement("div");
  div.className = "legend";
  div.style.fontSize = fontSize + "px";
  const items = seriesNames.map((n, i) => ({n, c: seriesColors[i], dash: null}));
  items.push({n: refName, c: "#000", dash: "8,3.5"});
  items.forEach((it, i) => {
    const el = document.createElement("div");
    el.className = "item";
    el.style.marginRight = (i < items.length - 1 ? gapItem : 0) + "px";
    el.innerHTML = `<svg width="${swW}" height="10" style="margin-right:${gapText}px"><line x1="0" x2="${swW}" y1="5" y2="5" stroke="${it.c}" stroke-width="${it.dash ? 3 : 2.6}" ${it.dash ? `stroke-dasharray="${it.dash}"` : ""}/></svg><span>${it.n}</span>`;
    div.appendChild(el);
  });
  return div;
}

const pa = document.getElementById("pa");
pa.appendChild(panel({height: 652, marginTop: 13, marginBottom: 136, domain: [295.3, 296.1], ticks: fenTicks,
  series: fenSeries, refValues: fenRefValues, labelMonths: fenRefLabelMonths, labelDy: [-18, -15, -14],
  titleDy: 10, titleSize: 18, titleWeight: "normal", titleFill: "#595959"}));
const la = legend(18, 10, 4, 43);
la.style.left = "137px"; la.style.top = "455px";
pa.appendChild(la);

const pb = document.getElementById("pb");
pb.appendChild(panel({height: 662, marginTop: 12, marginBottom: 131, domain: [293.7, 295.1], ticks: lakeTicks,
  series: lakeSeries, refValues: lakeRefValues, labelMonths: lakeRefLabelMonths, labelDy: [-12, -13, -16],
  titleDy: 12, titleSize: 17.5, titleWeight: "bold", titleFill: "#404040"}));
const lb = legend(17, 15, 3, 44);
lb.style.left = "138px"; lb.style.top = "530px";
pb.appendChild(lb);
</script>
</body></html>
